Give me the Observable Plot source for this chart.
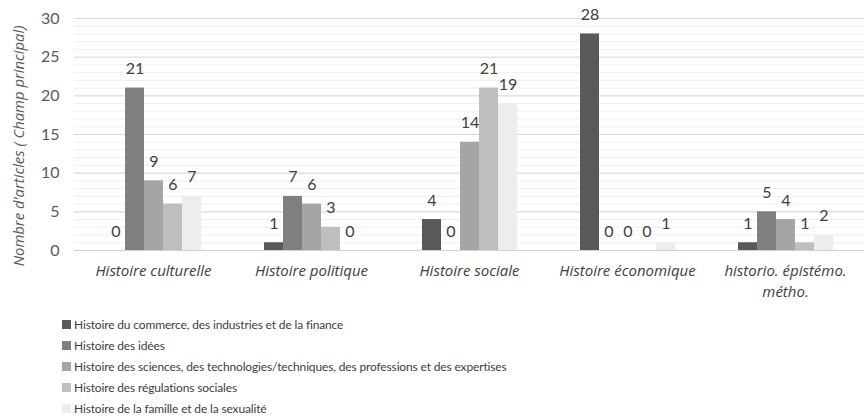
<!DOCTYPE html>
<html>
<head>
<meta charset="utf-8">
<script src="https://cdn.jsdelivr.net/npm/d3@7"></script>
<script src="https://cdn.jsdelivr.net/npm/@observablehq/plot@0.6"></script>
<style>
  html, body { margin: 0; padding: 0; background: #fff; }
  body { width: 868px; height: 418px; overflow: hidden; font-family: Lato, "Open Sans", sans-serif; }
  #wrap { position: relative; width: 868px; }
  #ylabel { position: absolute; left: 18px; top: 146px; transform: translate(-50%, -50%) rotate(-90deg);
    white-space: nowrap; font-family: "Open Sans", sans-serif; font-style: italic; font-size: 14.8px; color: #595959; }
  #legend { position: absolute; left: 62px; top: 314px; }
  .item { display: flex; align-items: center; height: 21px; font-size: 12px; letter-spacing: -0.15px; color: #404040; }
  .sw { width: 9px; height: 9px; margin-right: 3px; }
  #chart svg g[aria-label="y-axis tick label"] text { font-size: 16px; fill: #595959; }
</style>
</head>
<body>
<div id="wrap">
  <div id="chart"></div>
  <div id="ylabel"></div>
  <div id="legend"></div>
</div>
<script>
const categories = ["Histoire culturelle", "Histoire politique", "Histoire sociale", "Histoire économique", "historio. épistémo. métho."];
const categoryLabels = ["Histoire culturelle", "Histoire politique", "Histoire sociale", "Histoire économique", "historio. épistémo.\nmétho."];
const seriesNames = [
  "Histoire du commerce, des industries et de la finance",
  "Histoire des idées",
  "Histoire des sciences, des technologies/techniques, des professions et des expertises",
  "Histoire des régulations sociales",
  "Histoire de la famille et de la sexualité"
];
const commerce    = [0, 1, 4, 28, 1];
const idees       = [21, 7, 0, 0, 5];
const sciences    = [9, 6, 14, 0, 4];
const regulations = [6, 3, 21, 0, 1];
const famille     = [7, 0, 19, 1, 2];
const seriesColors = ["#595959", "#7f7f7f", "#a5a5a5", "#bfbfbf", "#ededed"];
const majorTicks = [0, 5, 10, 15, 20, 25, 30];
const minorTicks = d3.range(0, 31);
const yTitle = "Nombre d'articles ( Champ principal)";

const seriesValues = [commerce, idees, sciences, regulations, famille];
const data = [];
categories.forEach((c, i) => seriesNames.forEach((s, j) => data.push({category: c, series: s, value: seriesValues[j][i]})));
const labelOf = new Map(categories.map((c, i) => [c, categoryLabels[i]]));

const chart = Plot.plot({
  width: 868,
  height: 305,
  marginLeft: 72,
  marginRight: 2,
  marginTop: 18,
  marginBottom: 55,
  style: {fontFamily: "Lato, 'Open Sans', sans-serif", fontSize: "16px", background: "#fff"},
  fx: {domain: categories, paddingInner: 0, paddingOuter: 0, axis: null, label: null},
  x: {domain: seriesNames, paddingInner: 0, paddingOuter: 1.48, axis: null, label: null},
  y: {domain: [0, 30], ticks: majorTicks, tickSize: 0, tickPadding: 15, label: null},
  color: {domain: seriesNames, range: seriesColors},
  marks: [
    Plot.ruleY(minorTicks, {stroke: "#efefef", strokeWidth: 1}),
    Plot.ruleY(majorTicks, {stroke: "#d9d9d9", strokeWidth: 1}),
    Plot.barY(data, {fx: "category", x: "series", y: "value", fill: "series"}),
    Plot.ruleY([0], {stroke: "#d0d0d0", strokeWidth: 1}),
    Plot.text(data, {fx: "category", x: "series", y: "value", text: d => String(d.value), dy: -19, fontSize: 16, fill: "#404040"}),
    Plot.text(categories, {fx: d => d, text: d => labelOf.get(d), frameAnchor: "bottom", lineAnchor: "top", dy: 11, fontSize: 15, fontFamily: "Open Sans", fontStyle: "italic", fill: "#404040", lineHeight: 1.4})
  ]
});
document.getElementById("chart").appendChild(chart);

document.getElementById("ylabel").textContent = yTitle;
const legend = document.getElementById("legend");
seriesNames.forEach((s, i) => {
  const item = document.createElement("div");
  item.className = "item";
  const sw = document.createElement("div");
  sw.className = "sw";
  sw.style.background = seriesColors[i];
  const tx = document.createElement("span");
  tx.textContent = s;
  item.appendChild(sw);
  item.appendChild(tx);
  legend.appendChild(item);
});
</script>
</body>
</html>
